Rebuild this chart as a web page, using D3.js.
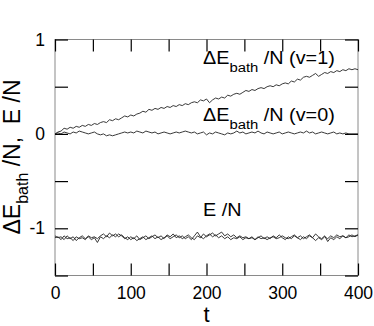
<!DOCTYPE html>
<html><head><meta charset="utf-8">
<script src="https://cdn.jsdelivr.net/npm/d3@7"></script>
<style>
body{margin:0;background:#fff;}
text{font-family:"Liberation Sans",Arial,Helvetica,sans-serif;fill:#000;}
</style></head>
<body><svg id="c" width="374" height="326"></svg>
<script>
const xTicks=[0,50,100,150,200,250,300,350,400];
const xLabels=["0","","100","","200","","300","","400"];
const yTicks=[-1.5,-1,-0.5,0,0.5,1];
const yLabels=["","-1","","0","","1"];
const times=d3.range(0,401,4);
const bathV1=[0.00,0.02,0.03,0.06,0.05,0.07,0.06,0.08,0.07,0.09,0.08,
0.10,0.09,0.11,0.10,0.12,0.13,0.12,0.15,0.14,0.16,
0.15,0.17,0.19,0.18,0.20,0.19,0.21,0.22,0.24,0.23,
0.26,0.25,0.27,0.26,0.28,0.27,0.29,0.28,0.30,0.29,
0.31,0.30,0.32,0.31,0.33,0.34,0.33,0.36,0.35,0.37,
0.33,0.36,0.38,0.37,0.39,0.38,0.41,0.40,0.42,0.43,
0.42,0.44,0.46,0.45,0.47,0.46,0.48,0.49,0.48,0.50,
0.51,0.50,0.52,0.51,0.53,0.54,0.53,0.56,0.55,0.58,
0.57,0.60,0.61,0.60,0.62,0.64,0.61,0.63,0.65,0.64,
0.66,0.65,0.67,0.66,0.68,0.67,0.69,0.68,0.69,0.68];
const bathV0=[0.00,0.01,0.00,0.02,0.01,0.00,0.02,0.01,0.03,0.02,0.01,
0.00,0.01,0.02,0.00,-0.01,0.00,-0.02,-0.01,-0.02,-0.01,
0.00,0.01,0.02,0.01,0.02,0.01,0.03,0.02,0.01,0.03,
0.02,0.01,0.02,0.00,0.01,0.02,0.01,0.00,0.01,0.02,
0.01,0.02,0.03,0.02,0.01,0.02,0.00,0.01,0.02,-0.01,
0.01,0.00,0.02,0.01,0.00,-0.01,0.01,0.00,0.01,0.03,
0.01,0.02,0.00,0.01,0.02,0.01,0.03,0.01,0.00,0.02,
0.01,0.00,0.01,0.02,0.00,0.01,0.02,0.01,0.00,0.01,
0.02,0.01,0.03,0.01,0.02,0.00,0.01,0.02,0.01,0.00,
0.01,0.02,0.00,0.01,0.00,0.01,0.00,0.00,0.00,0.00];
const energyA=[-1.08,-1.10,-1.09,-1.12,-1.08,-1.11,-1.09,-1.13,-1.10,-1.08,-1.11,
-1.09,-1.12,-1.10,-1.15,-1.09,-1.11,-1.08,-1.10,-1.07,-1.09,
-1.06,-1.08,-1.11,-1.09,-1.12,-1.10,-1.13,-1.11,-1.09,-1.12,
-1.10,-1.08,-1.11,-1.09,-1.12,-1.10,-1.08,-1.11,-1.09,-1.07,
-1.10,-1.08,-1.11,-1.09,-1.12,-1.08,-1.04,-1.09,-1.11,-1.08,
-1.06,-1.09,-1.07,-1.10,-1.08,-1.11,-1.09,-1.12,-1.10,-1.11,
-1.09,-1.12,-1.10,-1.11,-1.09,-1.12,-1.10,-1.08,-1.11,-1.09,
-1.11,-1.08,-1.10,-1.07,-1.10,-1.12,-1.09,-1.11,-1.08,-1.10,
-1.12,-1.09,-1.11,-1.08,-1.10,-1.13,-1.10,-1.12,-1.09,-1.11,
-1.08,-1.10,-1.07,-1.09,-1.08,-1.10,-1.07,-1.09,-1.08,-1.07];
const energyB=[-1.10,-1.09,-1.12,-1.08,-1.11,-1.10,-1.13,-1.09,-1.11,-1.10,-1.12,
-1.08,-1.10,-1.09,-1.11,-1.08,-1.06,-1.09,-1.05,-1.08,-1.06,
-1.09,-1.07,-1.10,-1.12,-1.09,-1.11,-1.08,-1.12,-1.10,-1.08,
-1.11,-1.09,-1.07,-1.10,-1.08,-1.11,-1.07,-1.09,-1.06,-1.10,
-1.08,-1.11,-1.09,-1.07,-1.10,-1.12,-1.08,-1.10,-1.06,-1.09,
-1.07,-1.05,-1.08,-1.06,-1.04,-1.08,-1.06,-1.09,-1.07,-1.10,
-1.08,-1.10,-1.09,-1.11,-1.10,-1.12,-1.09,-1.11,-1.10,-1.12,
-1.10,-1.09,-1.11,-1.10,-1.08,-1.10,-1.11,-1.09,-1.07,-1.10,
-1.08,-1.11,-1.09,-1.07,-1.10,-1.06,-1.09,-1.11,-1.08,-1.14,
-1.10,-1.12,-1.09,-1.11,-1.08,-1.10,-1.09,-1.07,-1.09,-1.07];

const L=55,R=358,T=39.5,B=275.5;
const x=d3.scaleLinear().domain([0,400]).range([L,R]);
const y=d3.scaleLinear().domain([-1.5,1]).range([B,T]);
const svg=d3.select("#c");

svg.append("rect").attr("x",L).attr("y",T).attr("width",R-L).attr("height",B-T)
  .attr("fill","none").attr("stroke","#8a8a8a").attr("stroke-width",1);

function styleAxis(g){
  g.select(".domain").remove();
  g.selectAll(".tick line").attr("stroke","#000").attr("stroke-width",1.2);
  g.selectAll("text").style("font-size","17.5px").style("font-family","Liberation Sans, Arial, sans-serif").attr("fill","#000");
}
const tk=12;
svg.append("g").attr("transform",`translate(0,${B})`)
  .call(d3.axisBottom(x).tickValues(xTicks).tickSizeInner(-tk).tickSizeOuter(0).tickPadding(11)
    .tickFormat((d,i)=>xLabels[i])).call(styleAxis);
svg.append("g").attr("transform",`translate(0,${T})`)
  .call(d3.axisTop(x).tickValues(xTicks).tickSizeInner(-tk).tickSizeOuter(0).tickFormat("")).call(styleAxis);
svg.append("g").attr("transform",`translate(${L},0)`)
  .call(d3.axisLeft(y).tickValues(yTicks).tickSizeInner(-13).tickSizeOuter(0).tickPadding(10)
    .tickFormat((d,i)=>yLabels[i])).call(styleAxis);
svg.append("g").attr("transform",`translate(${R},0)`)
  .call(d3.axisRight(y).tickValues(yTicks).tickSizeInner(-13).tickSizeOuter(0).tickFormat("")).call(styleAxis);

const line=d3.line().x((d,i)=>x(times[i])).y(d=>y(d));
[bathV1,bathV0,energyA,energyB].forEach(s=>{
  svg.append("path").datum(s).attr("d",line).attr("fill","none")
    .attr("stroke","#222").attr("stroke-width",0.9);
});

function annot(xx,yy,main,sub,rest,fs,ss){
  const t=svg.append("text").attr("transform",`translate(${xx},${yy}) scale(1.1,1)`).style("font-size",fs+"px");
  t.append("tspan").text(main);
  if(sub){
    t.append("tspan").attr("dy",8).style("font-size",ss+"px").text(sub);
    t.append("tspan").attr("dy",-8).text(rest);
  }
}
annot(203,64,"ΔE","bath","\u00A0/N (v=1)",18,13.5);
annot(203,121,"ΔE","bath","\u00A0/N (v=0)",18,13.5);
annot(203,216,"E /N",null,null,18);

svg.append("text").attr("x",(L+R)/2).attr("y",322).attr("text-anchor","middle")
  .style("font-size","22px").text("t");

const yl=svg.append("text").attr("transform",`translate(20,157) rotate(-90)`)
  .attr("text-anchor","middle").style("font-size","23px");
yl.append("tspan").text("ΔE");
yl.append("tspan").attr("dy",8).style("font-size","16px").text("bath");
yl.append("tspan").attr("dy",-8).text("\u00A0/N,\u00A0\u00A0E /N");
</script></body></html>
